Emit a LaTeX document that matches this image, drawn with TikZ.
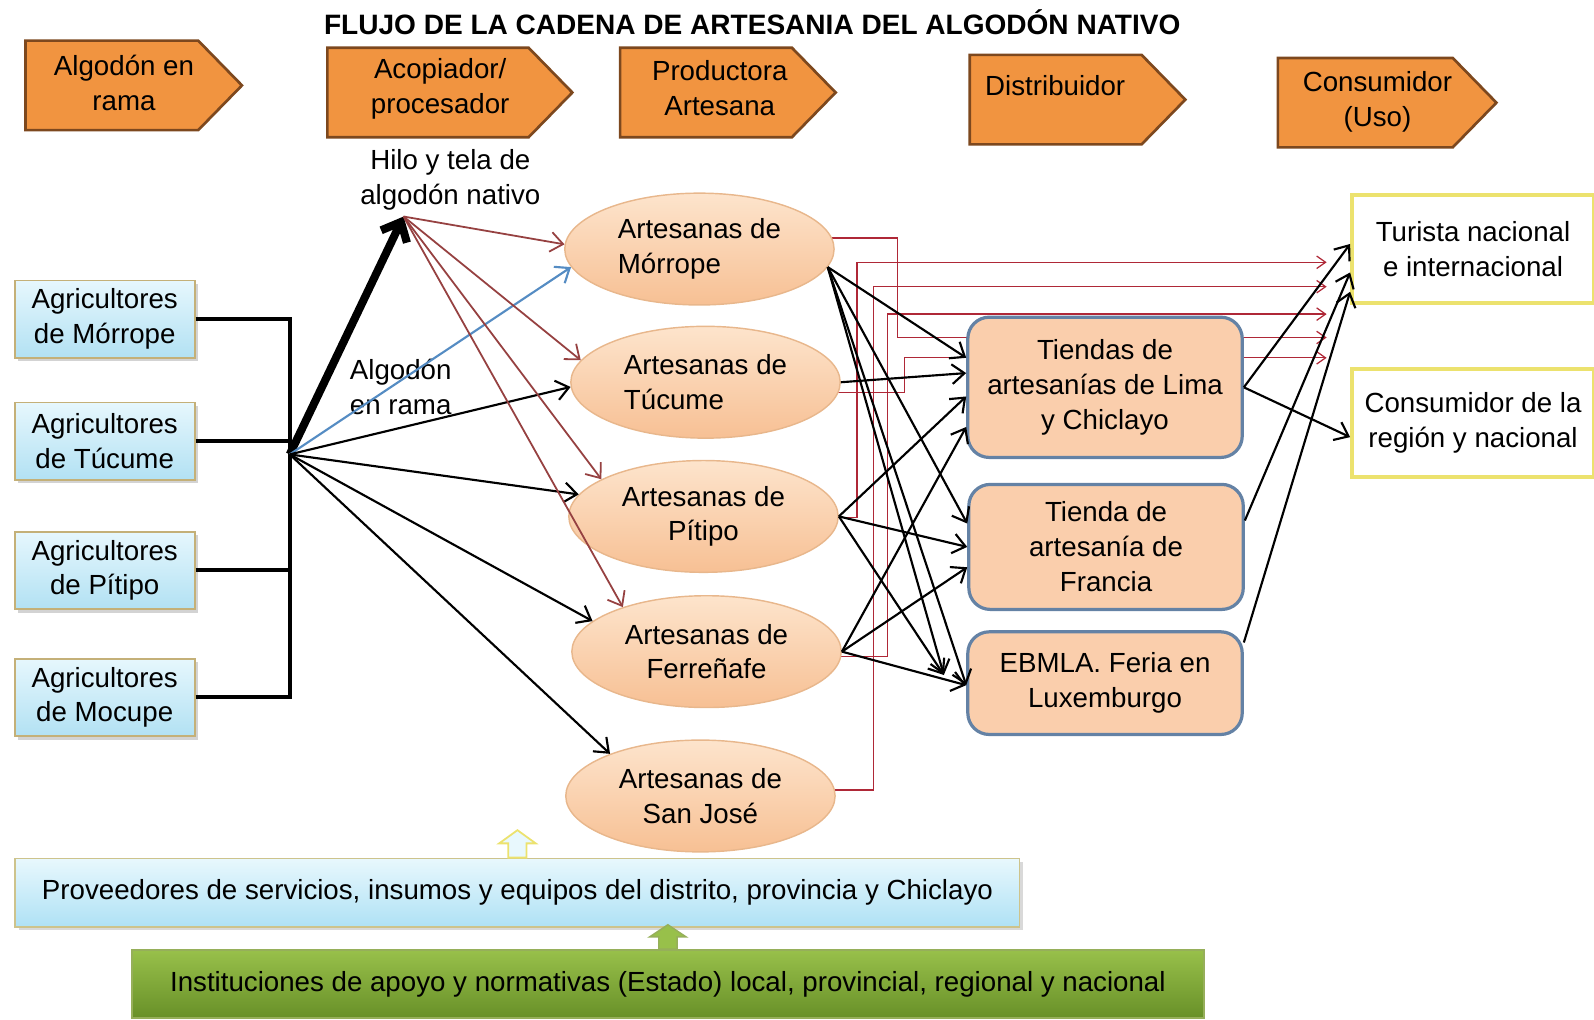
\documentclass[tikz,border=0pt]{standalone}
\usepackage{fontspec}
\setmainfont{Liberation Sans}
\usetikzlibrary{arrows.meta,shapes.geometric,shadows,backgrounds}

\definecolor{chevfill}{RGB}{241,148,64}
\definecolor{chevline}{RGB}{125,72,30}
\definecolor{agritop}{RGB}{230,247,253}
\definecolor{agribot}{RGB}{178,225,243}
\definecolor{agriline}{RGB}{196,176,120}
\definecolor{arttop}{RGB}{253,228,204}
\definecolor{artbot}{RGB}{247,192,148}
\definecolor{artline}{RGB}{232,183,140}
\definecolor{tienfill}{RGB}{250,206,172}
\definecolor{tienline}{RGB}{100,130,165}
\definecolor{consline}{RGB}{236,226,110}
\definecolor{hilocol}{RGB}{150,65,65}
\definecolor{azul}{RGB}{85,140,195}
\definecolor{redcol}{RGB}{175,40,55}
\definecolor{provtop}{RGB}{232,248,253}
\definecolor{provbot}{RGB}{175,225,245}
\definecolor{provline}{RGB}{205,195,140}
\definecolor{verdetop}{RGB}{152,192,74}
\definecolor{verdebot}{RGB}{104,144,40}
\definecolor{verdeline}{RGB}{150,175,90}

\begin{document}
\begin{tikzpicture}[
                    x=0.02cm, y=-0.02cm,
                    every node/.style={
                        font=\fontsize{15.5}{19.5}\selectfont,
                        align=center
                    },
                    agri/.style={
                        draw=agriline, line width=1pt,
                        top color=agritop, bottom color=agribot,
                        minimum width=3.54cm, minimum height=1.52cm,
                        drop shadow={opacity=0.35, shadow xshift=2pt, shadow yshift=-2pt}
                    },
                    artes/.style={
                        ellipse, draw=artline, line width=0.8pt,
                        top color=arttop, bottom color=artbot,
                        minimum width=5.3cm, minimum height=2.2cm, inner sep=0pt
                    },
                    tienda/.style={
                        rounded corners=12pt, draw=tienline, line width=1.8pt,
                        fill=tienfill, minimum width=5.4cm
                    },
                    cons/.style={
                        draw=consline, line width=2.2pt, fill=white,
                        minimum width=4.76cm, minimum height=2.12cm
                    },
                    flecha/.style={-{Straight Barb[length=7pt,width=11pt]}, line width=1.2pt},
                    hilof/.style={flecha, draw=hilocol, line width=1pt},
                    rojo/.style={draw=redcol, line width=0.7pt, -{Straight Barb[length=5pt,width=7pt]}}
                ]

                    \useasboundingbox (0,0) rectangle (1568,1003);

                    \node[font=\fontsize{15.7}{19}\selectfont\bfseries] (titulo) at (740,22) {FLUJO DE LA CADENA DE ARTESANIA DEL ALGODÓN NATIVO};

                    % Eslabones
                    \foreach \l/\t/\w/\tx/\ty/\txt [count=\i] in {
                        25/40/170/122/82/{Algodón en\\rama},
                        322/47/198/433/87/{Acopiador/\\procesador},
                        610/47/169/708/87/{Productora\\Artesana},
                        954/54/169/1038/84/{Distribuidor},
                        1257/57/172/1355/100/{Consumidor\\(Uso)}}{
                        \filldraw[fill=chevfill, draw=chevline, line width=1.5pt]
                            (\l,\t) -- ++(\w,0) -- ++(43,44) -- ++(-43,44) -- ++(-\w,0) -- cycle;
                        \node (c\i) at (\tx,\ty) {\txt};
                    }

                    \node[agri] (gmor) at (103,314) {Agricultores\\de Mórrope};
                    \node[agri] (gtuc) at (103,434) {Agricultores\\de Túcume};
                    \node[agri] (gpit) at (103,561) {Agricultores\\de Pítipo};
                    \node[agri] (gmoc) at (103,686) {Agricultores\\de Mocupe};
                    \coordinate (hub) at (285,447);

                    \node (hilo) at (443,177) {Hilo y tela de\\algodón nativo};
                    \coordinate (hilopt) at (397,213);
                    \node[align=left, anchor=west] (algrama) at (338,381) {Algodón\\en rama};

                    \node[artes, align=left] (amor) at (688,245) {Artesanas de\\Mórrope};
                    \node[artes, align=left] (atuc) at (694,376) {Artesanas de\\Túcume};
                    \node[artes] (apit) at (692,508) {Artesanas de\\Pítipo};
                    \node[artes] (afer) at (695,641) {Artesanas de\\Ferreñafe};
                    \node[artes] (asj) at (689,783) {Artesanas de\\San José};

                    \node[tienda, minimum height=2.76cm] (tlima) at (1087,381) {Tiendas de\\artesanías de Lima\\y Chiclayo};
                    \node[tienda, minimum height=2.46cm] (tfra) at (1088,538) {Tienda de\\artesanía de\\Francia};
                    \node[tienda, minimum height=2.02cm] (ebmla) at (1087,672) {EBMLA. Feria en\\Luxemburgo};

                    \node[cons] (turista) at (1449,245) {Turista nacional\\e internacional};
                    \node[cons] (consreg) at (1449,416) {Consumidor de la\\región y nacional};

                    \node[draw=provline, line width=1pt, top color=provtop, bottom color=provbot,
                          minimum width=19.76cm, minimum height=1.34cm,
                          drop shadow={opacity=0.3, shadow xshift=2pt, shadow yshift=-2pt}] (prov) at (509,878)
                          {Proveedores de servicios, insumos y equipos del distrito, provincia y Chiclayo};
                    \node[draw=verdeline, line width=1pt, top color=verdetop, bottom color=verdebot,
                          minimum width=21.1cm, minimum height=1.34cm] (inst) at (657,968)
                          {Instituciones de apoyo y normativas (Estado) local, provincial, regional y nacional};

                    % Flechas de apoyo
                    \filldraw[fill=provtop, draw=consline, line width=1pt] (prov.north) ++(-9,0)
                        -- ++(0,-14) -- ++(-9,0) -- ++(18,-13) -- ++(18,13) -- ++(-9,0) -- ++(0,14) -- cycle;
                    \filldraw[fill=verdetop, draw=verdeline, line width=0.8pt] (inst.north) ++(-9,0)
                        -- ++(0,-12) -- ++(-9,0) -- ++(18,-12) -- ++(18,12) -- ++(-9,0) -- ++(0,12) -- cycle;

                    % Agricultores
                    \draw[line width=2.2pt] (gmor.east) -| (hub);
                    \draw[line width=2.2pt] (gtuc.east) -| (hub);
                    \draw[line width=2.2pt] (gpit.east) -| (hub);
                    \draw[line width=2.2pt] (gmoc.east) -| (hub);
                    \draw[line width=4.5pt, -{Straight Barb[length=9pt,width=16pt]}] (hub) -- (hilopt);
                    \draw[flecha, draw=azul] (hub) -- (amor.188);
                    \draw[flecha] (hub) -- (atuc.182);
                    \draw[flecha] (hub) -- (apit.170);
                    \draw[flecha] (hub) -- (afer.165);
                    \draw[flecha] (hub) -- (asj.155);

                    % Hilo y tela
                    \draw[hilof] (hilopt) -- (amor.178);
                    \draw[hilof] (hilopt) -- (atuc.170);
                    \draw[hilof] (hilopt) -- (apit.160);
                    \draw[hilof] (hilopt) -- (afer.152);

                    % Hacia el consumidor
                    \coordinate (r1) at (1305,258);
                    \coordinate (r2) at (1305,282);
                    \coordinate (r3) at (1305,309);
                    \coordinate (r4) at (1305,332);
                    \coordinate (r5) at (1305,352);
                    \begin{scope}[on background layer]
                        \draw[rojo] ([shift={(0,-11)}]amor.center) -| (883,332) -- (r4);
                        \draw[rojo] ([shift={(0,10)}]atuc.center) -| (890,352) -- (r5);
                        \draw[rojo] ([shift={(0,1)}]apit.center) -| (843,258) -- (r1);
                        \draw[rojo] ([shift={(0,5)}]afer.center) -| (873,309) -- (r3);
                        \draw[rojo] ([shift={(0,-6)}]asj.center) -| (859,282) -- (r2);
                    \end{scope}

                    % Distribuidores
                    \draw[flecha] (amor.-8) -- ([shift={(0,-29)}]tlima.west);
                    \draw[flecha] (amor.-8) -- ([shift={(0,-23)}]tfra.west);
                    \draw[flecha] (amor.-8) -- ([shift={(-22,-8)}]ebmla.west);
                    \draw[flecha] (amor.-8) -- ([shift={(0,2)}]ebmla.west);
                    \draw[flecha] (atuc.east) -- ([shift={(0,-14)}]tlima.west);
                    \draw[flecha] (apit.east) -- ([shift={(0,9)}]tlima.west);
                    \draw[flecha] (apit.east) -- (tfra.west);
                    \draw[flecha] (apit.east) -- ([shift={(-22,-8)}]ebmla.west);
                    \draw[flecha] (afer.east) -- ([shift={(0,39)}]tlima.west);
                    \draw[flecha] (afer.east) -- ([shift={(0,20)}]tfra.west);
                    \draw[flecha] (afer.east) -- ([shift={(0,2)}]ebmla.west);

                    \draw[flecha] (tlima.east) -- ([shift={(0,-5)}]turista.west);
                    \draw[flecha] (tlima.east) -- ([shift={(0,14)}]consreg.west);
                    \draw[flecha] ([shift={(0,-26)}]tfra.east) -- ([shift={(0,23)}]turista.west);
                    \draw[flecha] ([shift={(0,-40)}]ebmla.east) -- ([shift={(0,42)}]turista.west);
                \end{tikzpicture}
\end{document}
